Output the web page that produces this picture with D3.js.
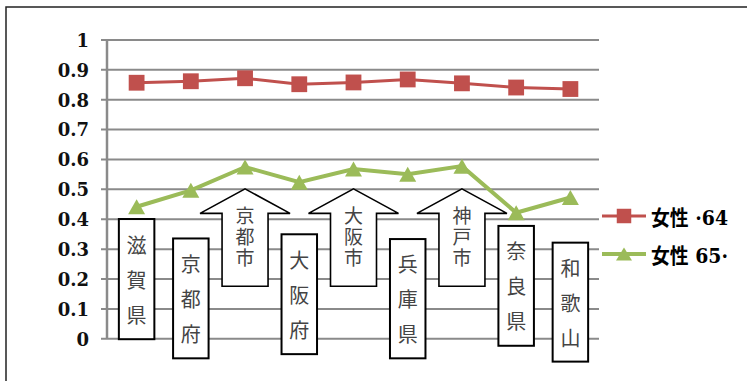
<!DOCTYPE html>
<html>
<head>
<meta charset="utf-8">
<script src="https://cdn.jsdelivr.net/npm/d3@7"></script>
<style>
    html, body { margin: 0; padding: 0; background: #fff; overflow: hidden; }
    svg { display: block; }
</style>
</head>
<body>
<div id="chart-div"></div>
<script>
//---------------------------------//
// Data                            //
//---------------------------------//

const categories = ['滋賀県', '京都府', '京都市', '大阪府', '大阪市', '兵庫県', '神戸市', '奈良県', '和歌山'];
const seriesNames = ['女性 ·64', '女性 65·'];
const female64 = [0.855, 0.860, 0.870, 0.850, 0.856, 0.866, 0.853, 0.839, 0.834];
const female65 = [0.440, 0.495, 0.573, 0.522, 0.566, 0.549, 0.576, 0.420, 0.471];
const yTicks = [0, 0.1, 0.2, 0.3, 0.4, 0.5, 0.6, 0.7, 0.8, 0.9, 1];
const yTickLabels = ['0', '0.1', '0.2', '0.3', '0.4', '0.5', '0.6', '0.7', '0.8', '0.9', '1'];

// prefecture boxes: category, top and bottom in data units
const boxNames = ['滋賀県', '京都府', '大阪府', '兵庫県', '奈良県', '和歌山'];
const boxTops = [0.399, 0.334, 0.348, 0.332, 0.376, 0.320];
const boxBottoms = [-0.003, -0.067, -0.053, -0.067, -0.025, -0.078];

// city arrows: tip, shoulder, foot in data units
const arrowNames = ['京都市', '大阪市', '神戸市'];
const arrowTip = 0.50;
const arrowShoulder = 0.418;
const arrowFoot = 0.174;

window.Chart = window.Chart || {};

Chart.init = function() {
    Chart.setup.initConsts();
    Chart.setup.initSvg();
    Chart.draw.grid();
    Chart.draw.annotations();
    Chart.draw.series();
    Chart.draw.legend();
};

Chart.setup = {
    initConsts: function() {
        Chart.width = 747;
        Chart.height = 381;
        Chart.red = '#c0504d';
        Chart.green = '#9bbb59';
        Chart.gridColor = '#8a8a8a';
        Chart.axisX = 107;
        Chart.cjk = '"Noto Sans CJK JP", sans-serif';
    },

    initSvg: function() {
        Chart.svg = d3.select('#chart-div').append('svg')
                      .attr('width', Chart.width)
                      .attr('height', Chart.height);

        Chart.x = d3.scaleBand()
                    .domain(categories)
                    .range([109.5, 597.5]);
        Chart.y = d3.scaleLinear()
                    .domain([0, 1])
                    .range([338.3, 39.4]);

        // outer frame (only left and top edges are inside the picture)
        Chart.svg.append('path')
                 .attr('d', 'M6,' + (Chart.height + 2) + 'V7H' + (Chart.width + 2))
                 .attr('fill', 'none')
                 .attr('stroke', '#222')
                 .attr('stroke-width', 1.5);
    }
};

Chart.draw = {
    grid: function() {
        let axis = d3.axisLeft(Chart.y)
                     .tickValues(yTicks)
                     .tickSize(-(599 - Chart.axisX))
                     .tickFormat((d, i) => yTickLabels[i]);

        let g = Chart.svg.append('g')
                         .attr('transform', 'translate(' + Chart.axisX + ',0)')
                         .call(axis);

        g.select('.domain').remove();
        g.selectAll('.tick line')
         .attr('x1', -6)
         .attr('stroke', Chart.gridColor)
         .attr('stroke-width', 2);
        g.selectAll('.tick text')
         .attr('x', -18)
         .attr('dy', '0.38em')
         .attr('fill', '#111')
         .style('font-family', '"DejaVu Serif", serif')
         .style('font-weight', 'bold')
         .style('font-size', '18px');

        // vertical axis line
        g.append('line')
         .attr('y1', Chart.y(1))
         .attr('y2', Chart.y(0))
         .attr('stroke', Chart.gridColor)
         .attr('stroke-width', 2.5);
    },

    annotations: function() {
        let x = Chart.x, y = Chart.y;
        let bw = x.bandwidth();

        // prefecture boxes
        let boxes = Chart.svg.append('g').selectAll('g')
                         .data(boxNames)
                         .join('g');

        boxes.append('rect')
             .attr('x', d => x(d) + bw/2 - 17.75)
             .attr('y', (d, i) => y(boxTops[i]))
             .attr('width', 35.5)
             .attr('height', (d, i) => y(boxBottoms[i]) - y(boxTops[i]))
             .attr('fill', '#fff')
             .attr('stroke', '#000')
             .attr('stroke-width', 2);

        boxes.each(function(d, i) {
            let cy = (y(boxTops[i]) + y(boxBottoms[i])) / 2;
            d3.select(this).selectAll('text')
              .data(Array.from(d))
              .join('text')
              .attr('x', x(d) + bw/2)
              .attr('y', (c, k) => cy + (k - 1) * 35)
              .attr('text-anchor', 'middle')
              .attr('dominant-baseline', 'central')
              .attr('fill', '#444')
              .style('font-family', Chart.cjk)
              .style('font-size', '20px')
              .text(c => c);
        });

        // city arrows
        let arrows = Chart.svg.append('g').selectAll('g')
                          .data(arrowNames)
                          .join('g');

        arrows.append('path')
              .attr('d', function(d) {
                  let cx = x(d) + bw/2;
                  let tip = y(arrowTip), sh = y(arrowShoulder), ft = y(arrowFoot);
                  return 'M' + cx + ',' + tip +
                         'L' + (cx + 45) + ',' + sh +
                         'H' + (cx + 23) +
                         'V' + ft +
                         'H' + (cx - 23) +
                         'V' + sh +
                         'H' + (cx - 45) + 'Z';
              })
              .attr('fill', '#fff')
              .attr('stroke', '#000')
              .attr('stroke-width', 1.6);

        arrows.each(function(d) {
            let cx = x(d) + bw/2;
            let tip = y(arrowTip);
            d3.select(this).selectAll('text')
              .data(Array.from(d))
              .join('text')
              .attr('x', cx)
              .attr('y', (c, k) => tip + 26 + k * 21)
              .attr('text-anchor', 'middle')
              .attr('dominant-baseline', 'central')
              .attr('fill', '#444')
              .style('font-family', Chart.cjk)
              .style('font-size', '19px')
              .text(c => c);
        });
    },

    series: function() {
        let x = Chart.x, y = Chart.y;
        let cx = d => x(d) + x.bandwidth()/2;

        let line = d3.line()
                     .x((d, i) => cx(categories[i]))
                     .y(d => y(d));

        // red series with squares
        Chart.svg.append('path')
                 .datum(female64)
                 .attr('d', line)
                 .attr('fill', 'none')
                 .attr('stroke', Chart.red)
                 .attr('stroke-width', 3);

        Chart.svg.append('g').selectAll('path')
                 .data(female64)
                 .join('path')
                 .attr('d', d3.symbol(d3.symbolSquare, 250))
                 .attr('transform', (d, i) => 'translate(' + cx(categories[i]) + ',' + y(d) + ')')
                 .attr('fill', Chart.red);

        // green series with triangles
        Chart.svg.append('path')
                 .datum(female65)
                 .attr('d', line)
                 .attr('fill', 'none')
                 .attr('stroke', Chart.green)
                 .attr('stroke-width', 4);

        Chart.svg.append('g').selectAll('path')
                 .data(female65)
                 .join('path')
                 .attr('d', Chart.draw.triangle(17, 15))
                 .attr('transform', (d, i) => 'translate(' + cx(categories[i]) + ',' + y(d) + ')')
                 .attr('fill', Chart.green);
    },

    triangle: function(w, h) {
        return 'M0,' + (-h/2) + 'L' + (w/2) + ',' + (h/2) + 'H' + (-w/2) + 'Z';
    },

    legend: function() {
        let items = [
            {name: seriesNames[0], color: Chart.red, y: 216, marker: d3.symbol(d3.symbolSquare, 210)()},
            {name: seriesNames[1], color: Chart.green, y: 254, marker: Chart.draw.triangle(16, 13)}
        ];

        let g = Chart.svg.append('g').selectAll('g')
                         .data(items)
                         .join('g')
                         .attr('transform', d => 'translate(0,' + d.y + ')');

        g.append('line')
         .attr('x1', 602).attr('x2', 646)
         .attr('stroke', d => d.color)
         .attr('stroke-width', d => d === items[0] ? 3 : 4);

        g.append('path')
         .attr('d', d => d.marker)
         .attr('transform', 'translate(624,0)')
         .attr('fill', d => d.color);

        g.append('text')
         .attr('x', 651)
         .attr('y', 9)
         .attr('textLength', 77)
         .attr('lengthAdjust', 'spacingAndGlyphs')
         .attr('fill', '#000')
         .style('font-family', '"DejaVu Serif", "Noto Sans CJK JP", serif')
         .style('font-weight', 'bold')
         .style('font-size', '21px')
         .text(d => d.name);
    }
};

document.addEventListener('DOMContentLoaded', Chart.init);
</script>
</body>
</html>
